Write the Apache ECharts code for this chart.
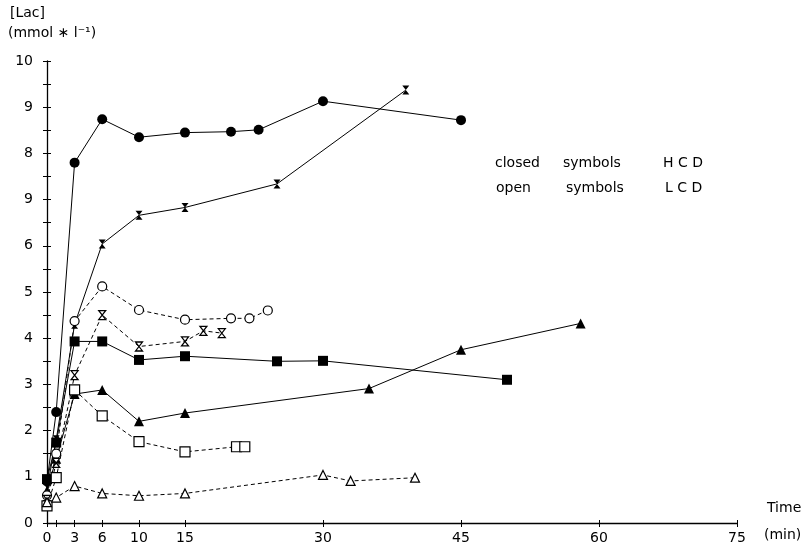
<!DOCTYPE html>
<html>
<head>
<meta charset="utf-8">
<script src="https://cdn.jsdelivr.net/npm/echarts@6/dist/echarts.min.js"></script>
<style>
  html, body { margin: 0; padding: 0; background: #fff; }
  #chart { width: 804px; height: 551px; }
</style>
</head>
<body>
<div id="chart"></div>
<script>
// time (min) and lactate (mmol/l) per subject group
const xTicks = [0, 1, 3, 6, 10, 15, 30, 45, 60, 75]
const xTickLabels = [0, 3, 6, 10, 15, 30, 45, 60, 75]
const yTickLabels = ['0', '1', '2', '3', '4', '5', '6', '9', '8', '9', '10']

const timeCircleHCD = [0, 1, 3, 6, 10, 15, 20, 23, 30, 45]
const lacCircleHCD = [0.9, 2.4, 7.8, 8.74, 8.35, 8.45, 8.47, 8.51, 9.13, 8.72]

const timeHourglassHCD = [0, 1, 3, 6, 10, 15, 25, 39]
const lacHourglassHCD = [0.75, 1.8, 4.3, 6.04, 6.66, 6.83, 7.34, 9.37]

const timeSquareHCD = [0, 1, 3, 6, 10, 15, 25, 30, 50]
const lacSquareHCD = [0.95, 1.74, 3.93, 3.93, 3.53, 3.61, 3.5, 3.51, 3.1]

const timeTriangleHCD = [0, 1, 3, 6, 10, 15, 35, 45, 58]
const lacTriangleHCD = [0.7, 1.39, 2.79, 2.88, 2.2, 2.38, 2.91, 3.75, 4.32]

const timeCircleLCD = [0, 1, 3, 6, 10, 15, 20, 22, 24]
const lacCircleLCD = [0.6, 1.5, 4.37, 5.12, 4.61, 4.4, 4.43, 4.43, 4.6]

const timeHourglassLCD = [0, 1, 3, 6, 10, 15, 17, 19]
const lacHourglassLCD = [0.5, 1.3, 3.2, 4.5, 3.82, 3.93, 4.16, 4.11]

const timeSquareLCD = [0, 1, 3, 6, 10, 15, 20.6, 21.5]
const lacSquareLCD = [0.37, 0.98, 2.88, 2.32, 1.76, 1.54, 1.65, 1.65]

const timeTriangleLCD = [0, 1, 3, 6, 10, 15, 30, 33, 40]
const lacTriangleLCD = [0.45, 0.55, 0.8, 0.64, 0.59, 0.64, 1.04, 0.91, 0.98]

const hourglass = 'path://M0,0 L8,0 L0,10 L8,10 Z'
const font = 'DejaVu Sans'

function pairs(xs, ys) {
  return xs.map((x, i) => [x, ys[i]])
}

function series(xs, ys, symbol, closed, size) {
  return {
    type: 'line',
    data: pairs(xs, ys),
    symbol: symbol,
    symbolSize: size,
    showSymbol: true,
    z: closed ? 3 : 4,
    lineStyle: {
      color: '#000',
      width: 1,
      type: closed ? 'solid' : [4, 3]
    },
    itemStyle: {
      color: closed ? '#000' : '#fff',
      borderColor: '#000',
      borderWidth: closed ? 0 : 1.2
    },
    animation: false
  }
}

const chart = echarts.init(document.getElementById('chart'))

chart.setOption({
  backgroundColor: '#fff',
  grid: { left: 47, right: 67, top: 61, bottom: 28 },
  xAxis: [
    {
      type: 'value',
      min: 0,
      max: 75,
      splitLine: { show: false },
      axisLine: { lineStyle: { color: '#000', width: 1.3 } },
      axisTick: { customValues: xTicks, length: 4, lineStyle: { color: '#000' } },
      axisLabel: {
        customValues: xTickLabels,
        color: '#000',
        fontFamily: font,
        fontSize: 14,
        margin: 8
      }
    },
    {
      type: 'value',
      min: 0,
      max: 75,
      position: 'bottom',
      splitLine: { show: false },
      axisLine: { show: false },
      axisTick: { customValues: xTicks, inside: true, length: 3, lineStyle: { color: '#000' } },
      axisLabel: { show: false }
    }
  ],
  yAxis: [
    {
      type: 'value',
      min: 0,
      max: 10,
      interval: 0.5,
      splitLine: { show: false },
      axisLine: { show: true, lineStyle: { color: '#000', width: 1.3 } },
      axisTick: { show: true, length: 4, lineStyle: { color: '#000' } },
      axisLabel: {
        color: '#000',
        fontFamily: font,
        fontSize: 14,
        margin: 14,
        formatter: v => (Number.isInteger(v) ? yTickLabels[v] : '')
      }
    },
    {
      type: 'value',
      min: 0,
      max: 10,
      interval: 0.5,
      position: 'left',
      splitLine: { show: false },
      axisLine: { show: false },
      axisTick: { show: true, inside: true, length: 4, lineStyle: { color: '#000' } },
      axisLabel: { show: false }
    }
  ],
  graphic: [
    { type: 'text', left: 10, top: 6, style: { text: '[Lac]', font: '14px ' + font, fill: '#000' } },
    { type: 'text', left: 8, top: 26, style: { text: '(mmol ∗ l⁻¹)', font: '14px ' + font, fill: '#000' } },
    { type: 'text', left: 767, top: 501, style: { text: 'Time', font: '14px ' + font, fill: '#000' } },
    { type: 'text', left: 764, top: 528, style: { text: '(min)', font: '14px ' + font, fill: '#000' } },
    { type: 'text', left: 495, top: 156, style: { text: 'closed', font: '14px ' + font, fill: '#000' } },
    { type: 'text', left: 563, top: 156, style: { text: 'symbols', font: '14px ' + font, fill: '#000' } },
    { type: 'text', left: 663, top: 156, style: { text: 'H C D', font: '14px ' + font, fill: '#000' } },
    { type: 'text', left: 496, top: 181, style: { text: 'open', font: '14px ' + font, fill: '#000' } },
    { type: 'text', left: 566, top: 181, style: { text: 'symbols', font: '14px ' + font, fill: '#000' } },
    { type: 'text', left: 665, top: 181, style: { text: 'L C D', font: '14px ' + font, fill: '#000' } }
  ],
  series: [
    series(timeCircleHCD, lacCircleHCD, 'circle', true, 10),
    series(timeHourglassHCD, lacHourglassHCD, hourglass, true, [7, 9]),
    series(timeSquareHCD, lacSquareHCD, 'rect', true, 10),
    series(timeTriangleHCD, lacTriangleHCD, 'triangle', true, 10),
    series(timeCircleLCD, lacCircleLCD, 'circle', false, 9),
    series(timeHourglassLCD, lacHourglassLCD, hourglass, false, [7, 9]),
    series(timeSquareLCD, lacSquareLCD, 'rect', false, 10),
    series(timeTriangleLCD, lacTriangleLCD, 'triangle', false, 9)
  ]
})
</script>
</body>
</html>
